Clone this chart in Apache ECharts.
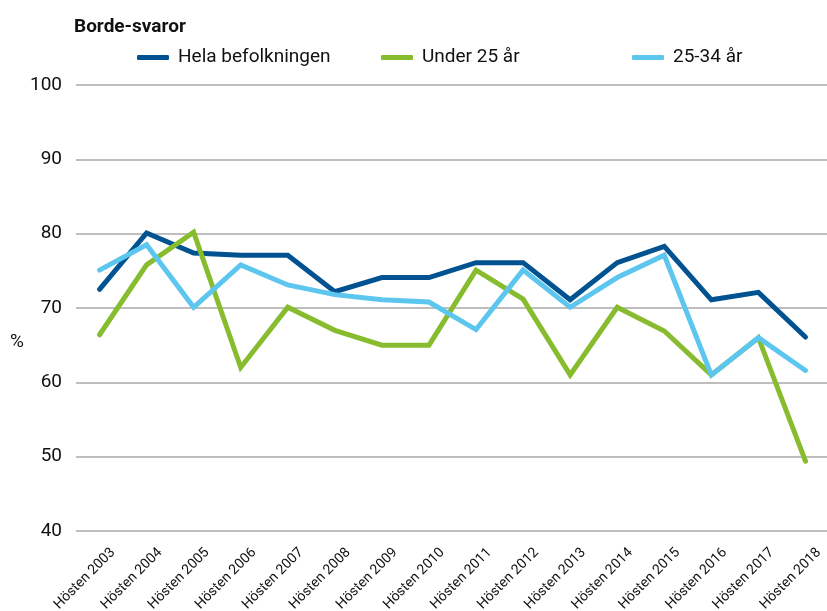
<!DOCTYPE html>
<html>
<head>
<meta charset="utf-8">
<script src="https://cdn.jsdelivr.net/npm/echarts@6/dist/echarts.min.js"></script>
<style>
  html, body { margin: 0; padding: 0; background: #fff; }
  #chart { width: 827px; height: 611px; }
</style>
</head>
<body>
<div id="chart"></div>
<script>
// Borde-svaror, andel i procent
const years = [
  "Hösten 2003", "Hösten 2004", "Hösten 2005", "Hösten 2006",
  "Hösten 2007", "Hösten 2008", "Hösten 2009", "Hösten 2010",
  "Hösten 2011", "Hösten 2012", "Hösten 2013", "Hösten 2014",
  "Hösten 2015", "Hösten 2016", "Hösten 2017", "Hösten 2018",
];
const helaBefolkningen = [72.5, 80.1, 77.4, 77.1, 77.1, 72.2, 74.1, 74.1, 76.1, 76.1, 71.1, 76.1, 78.3, 71.1, 72.1, 66.1];
const under25 = [66.4, 75.8, 80.2, 62, 70.1, 67, 65, 65, 75.1, 71.2, 61, 70.1, 66.9, 61, 66, 49.4];
const ar25till34 = [75.1, 78.5, 70.1, 75.8, 73.1, 71.8, 71.1, 70.8, 67.1, 75.1, 70.1, 74.1, 77.1, 61, 66, 61.6];
const yTicks = { min: 40, max: 100, step: 10 };

const font = "Roboto, 'Liberation Sans', sans-serif";
const colors = ["#005291", "#86bc2e", "#5cc6ef"];
const names = ["Hela befolkningen", "Under 25 år", "25-34 år"];
const values = [helaBefolkningen, under25, ar25till34];
const legendLeft = [132, 376, 627];

const chart = echarts.init(document.getElementById("chart"));

const option = {
  animation: false,
  textStyle: { fontFamily: font },
  title: {
    text: "Borde-svaror",
    left: 69,
    top: 13,
    textStyle: { fontFamily: font, fontSize: 19, fontWeight: "bold", color: "#111" },
  },
  legend: names.map((n, i) => ({
    data: [n],
    left: legendLeft[i],
    top: 43,
    icon: "roundRect",
    itemWidth: 32,
    itemHeight: 5,
    textStyle: { fontFamily: font, fontSize: 19, color: "#111", padding: [0, 0, 0, 4] },
  })),
  graphic: [{
    type: "text",
    left: 10,
    top: 333,
    style: { text: "%", fontFamily: font, fontSize: 19, fill: "#111" },
  }],
  grid: { left: 76, top: 85, width: 753, height: 446, outerBoundsMode: "none", containLabel: false },
  xAxis: {
    type: "category",
    data: years,
    boundaryGap: true,
    axisLine: { show: false },
    axisTick: { show: false },
    axisLabel: {
      interval: 0,
      rotate: 45,
      margin: 6,
      verticalAlign: "top",
      padding: [12, 0, 0, 0],
      fontFamily: font,
      fontSize: 14,
      color: "#111",
    },
  },
  yAxis: {
    type: "value",
    min: yTicks.min,
    max: yTicks.max,
    interval: yTicks.step,
    axisLine: { show: false },
    axisTick: { show: false },
    axisLabel: { margin: 14, fontFamily: font, fontSize: 19, color: "#111" },
    splitLine: { lineStyle: { color: "#a9a9a9", width: 1.5 } },
  },
  series: names.map((n, i) => ({
    name: n,
    type: "line",
    data: values[i],
    symbol: "none",
    color: colors[i],
    lineStyle: { color: colors[i], width: 5, cap: "round", join: "miter" },
  })),
};

chart.setOption(option);
</script>
</body>
</html>
